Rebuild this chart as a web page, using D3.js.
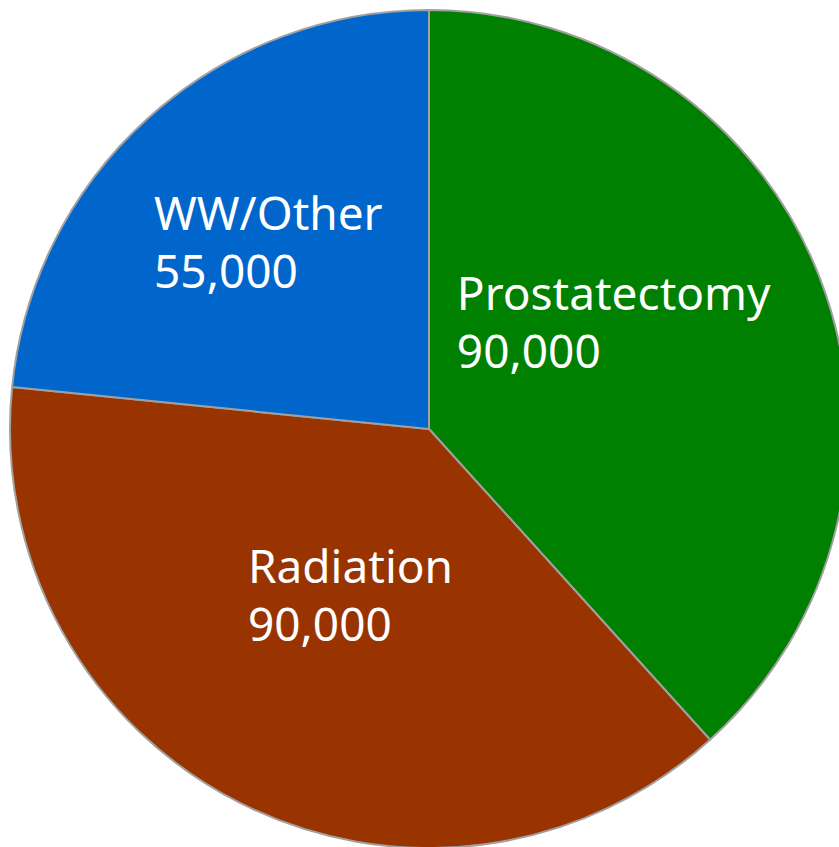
<!DOCTYPE html>
<html>
<head>
<meta charset="utf-8">
<script src="https://cdn.jsdelivr.net/npm/d3@7"></script>
<style>
  html, body { margin: 0; padding: 0; background: #fff; overflow: hidden; }
</style>
</head>
<body>
<script>
// chart data
var categories = ["Prostatectomy", "Radiation", "WW/Other"];
var values = [90000, 90000, 55000];
var colors = ["#008000", "#993300", "#0066CC"];

// label placement: radius from centre and nudge, per slice
var labelRadius = [214, 183, 247];
var labelNudge = [[-15, -31], [4, 2], [5, -5]];

var width = 839, height = 847;
var cx = 429, cy = 429, r = 419;

var svg = d3.select("body").append("svg")
    .attr("width", width)
    .attr("height", height)

var pie = d3.pie().sort(null).value(function(d) { return d; })
var arcs = pie(values)

var arc = d3.arc().innerRadius(0).outerRadius(r)

var g = svg.append("g").attr("transform", "translate(" + cx + "," + cy + ")")

g.selectAll("path.slice")
    .data(arcs)
    .enter().append("path")
    .attr("class", "slice")
    .attr("d", arc)
    .attr("fill", function(d, i) { return colors[i]; })
    .attr("stroke", "#a0a0a0")
    .attr("stroke-width", 2)
    .attr("stroke-linejoin", "round")

var fmt = d3.format(",")

arcs.forEach(function(d, i) {
    var la = d3.arc().innerRadius(labelRadius[i]).outerRadius(labelRadius[i])
    var c = la.centroid(d)
    var x = c[0] + labelNudge[i][0], y = c[1] + labelNudge[i][1]
    var t = g.append("text")
        .attr("fill", "#fff")
        .attr("font-family", "'Noto Sans', sans-serif")
        .attr("font-size", 46)
    var l1 = t.append("tspan").attr("y", y - 11).text(categories[i])
    var l2 = t.append("tspan").attr("y", y + 47).text(fmt(d.data))
    var w = Math.max(l1.node().getComputedTextLength(), l2.node().getComputedTextLength())
    l1.attr("x", x - w / 2)
    l2.attr("x", x - w / 2)
})
</script>
</body>
</html>
